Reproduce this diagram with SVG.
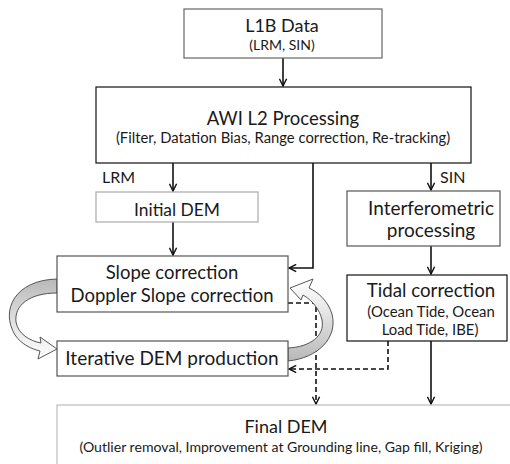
<svg xmlns="http://www.w3.org/2000/svg" width="510" height="464" viewBox="0 0 510 464">
<defs>
<marker id="arr" viewBox="0 0 10 10" refX="9" refY="5" markerWidth="9" markerHeight="9" markerUnits="userSpaceOnUse" orient="auto">
<path d="M1,1 L9,5 L1,9" fill="none" stroke="#111" stroke-width="1.6"/>
</marker>
<linearGradient id="gL" x1="0" y1="0" x2="0" y2="1">
<stop offset="0" stop-color="#b8b8b8"/><stop offset="0.6" stop-color="#e6e6e6"/><stop offset="1" stop-color="#ffffff"/>
</linearGradient>
<linearGradient id="gR" x1="0" y1="1" x2="0" y2="0">
<stop offset="0" stop-color="#b8b8b8"/><stop offset="0.6" stop-color="#e6e6e6"/><stop offset="1" stop-color="#ffffff"/>
</linearGradient>
<style>
.box{fill:#fff;stroke-width:1.2}
.t{font-family:Lato,"Liberation Sans",sans-serif;fill:#1a1a1a;text-anchor:middle}
.sm{font-size:14.2px}
.con{fill:none;stroke:#111;stroke-width:1.6}
.dash{fill:none;stroke:#111;stroke-width:1.6;stroke-dasharray:5,3}
.curve{stroke:#444;stroke-width:0.9}
</style>
</defs>
<rect width="510" height="464" fill="#fff"/>

<g id="connectors">
<line class="con" x1="283" y1="58" x2="283" y2="86" marker-end="url(#arr)"/>
<line class="con" x1="173" y1="163" x2="173" y2="191" marker-end="url(#arr)"/>
<line class="con" x1="173" y1="222" x2="173" y2="255" marker-end="url(#arr)"/>
<polyline class="con" points="313,163 313,268 289,268" marker-end="url(#arr)"/>
<line class="con" x1="431" y1="163" x2="431" y2="190" marker-end="url(#arr)"/>
<line class="con" x1="431" y1="246" x2="431" y2="274" marker-end="url(#arr)"/>
<line class="con" x1="431" y1="341" x2="431" y2="404" marker-end="url(#arr)"/>
<polyline class="dash" points="288,303 316,303 316,404" marker-end="url(#arr)"/>
<polyline class="dash" points="388,341 388,369 289,369" marker-end="url(#arr)"/>
<path class="curve" fill="url(#gL)" d="M57,279 C15,280 0,310 15,335 C22,345 32,349 40,351 L38,359 L57,349 L40,337 L41,343 C30,341 18,334 16,322 C14,305 30,293 57,293 Z"/>
<path class="curve" fill="url(#gR)" d="M288,361 C318,358 338,338 332,314 C328,301 318,292 309,288 L313,279 L290,288 L301,300 L303,295 C312,300 320,310 322,320 C325,336 310,347 288,348 Z"/>
</g>

<g id="l1b">
<rect class="box" x="184" y="9" width="198" height="49" stroke="#666"/>
<text class="t" style="font-size:18px" x="282" y="32">L1B Data</text>
<text class="t" style="font-size:14px" x="282" y="50">(LRM, SIN)</text>
</g>

<g id="awi">
<rect class="box" x="96" y="87" width="375" height="76" stroke="#111"/>
<text class="t" style="font-size:18.5px" x="283" y="125">AWI L2 Processing</text>
<text class="t" style="font-size:14.8px" x="283" y="143">(Filter, Datation Bias, Range correction, Re-tracking)</text>
</g>

<g id="labels">
<text class="t" style="font-size:16px;text-anchor:start" x="102" y="183">LRM</text>
<text class="t" style="font-size:16px;text-anchor:start" x="440" y="183">SIN</text>
</g>

<g id="initial">
<rect class="box" x="96" y="192" width="162" height="30" stroke="#aaa"/>
<text class="t" style="font-size:17.4px" x="177" y="216">Initial DEM</text>
</g>

<g id="slope">
<rect class="box" x="57" y="256" width="231" height="56" stroke="#555"/>
<text class="t" style="font-size:18.5px" x="172" y="279">Slope correction</text>
<text class="t" style="font-size:18.5px" x="172" y="302">Doppler Slope correction</text>
</g>

<g id="interf">
<rect class="box" x="347" y="191" width="153" height="55" stroke="#555"/>
<text class="t" style="font-size:19px" x="431" y="215">Interferometric</text>
<text class="t" style="font-size:19px" x="431" y="237">processing</text>
</g>

<g id="tidal">
<rect class="box" x="347" y="275" width="160" height="66" stroke="#111"/>
<text class="t" style="font-size:18.7px" x="431" y="297">Tidal correction</text>
<text class="t" style="font-size:14.9px" x="431" y="317">(Ocean Tide, Ocean</text>
<text class="t" style="font-size:14.9px" x="430" y="335">Load Tide, IBE)</text>
</g>

<g id="iterative">
<rect class="box" x="57" y="341" width="231" height="35" stroke="#555"/>
<text class="t" style="font-size:19px" x="172" y="365">Iterative DEM production</text>
</g>

<g id="final">
<rect class="box" x="57" y="405" width="470" height="80" stroke="#bbb"/>
<text class="t" style="font-size:18px" x="286" y="433">Final DEM</text>
<text class="t" style="font-size:14.1px" x="281" y="452">(Outlier removal, Improvement at Grounding line, Gap fill, Kriging)</text>
</g>
</svg>
